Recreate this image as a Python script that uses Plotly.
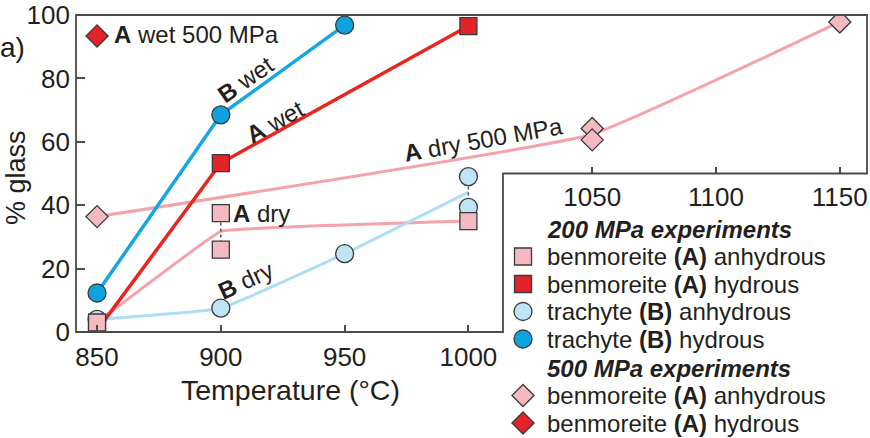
import plotly.graph_objects as go

# ---------------- data ----------------
# 200 MPa experiments
a_dry_T = [850, 900, 900, 1000]          # benmoreite (A) anhydrous
a_dry_v = [3.0, 37.5, 26.0, 35.0]
a_wet_T = [850, 900, 1000]               # benmoreite (A) hydrous
a_wet_v = [0.5, 53.3, 96.5]
b_dry_T = [850, 900, 950, 1000, 1000]    # trachyte (B) anhydrous
b_dry_v = [4.0, 7.5, 24.7, 49.0, 39.3]
b_wet_T = [850, 900, 950]                # trachyte (B) hydrous
b_wet_v = [12.3, 68.5, 96.8]
# 500 MPa experiments
a_dry500_T = [850, 1050, 1050, 1150]     # benmoreite (A) anhydrous
a_dry500_v = [36.4, 64.2, 60.6, 97.8]
a_wet500_T = [850]                       # benmoreite (A) hydrous
a_wet500_v = [93.4]

x_ticks_200 = [850, 900, 950, 1000]
x_ticks_500 = [1050, 1100, 1150]
y_ticks = [0, 20, 40, 60, 80, 100]

legend_rows = [
    ("title", "<b><i>200 MPa experiments</i></b>"),
    ("a_dry", "benmoreite <b>(A)</b> anhydrous"),
    ("a_wet", "benmoreite <b>(A)</b> hydrous"),
    ("b_dry", "trachyte <b>(B)</b> anhydrous"),
    ("b_wet", "trachyte <b>(B)</b> hydrous"),
    ("title", "<b><i>500 MPa experiments</i></b>"),
    ("a_dry500", "benmoreite <b>(A)</b> anhydrous"),
    ("a_wet500", "benmoreite <b>(A)</b> hydrous"),
]

# ---------------- styles ----------------
FONT = "Liberation Sans, Arial, Helvetica, sans-serif"
TXT = "#231F20"
EDGE = "#3A3A3A"
PINK_FILL, PINK_LINE = "#F5BAC0", "#F4A3AA"
RED_FILL, RED_LINE = "#E3222A", "#E8251F"
LBLUE_FILL, LBLUE_LINE = "#BFE4F6", "#AEDDF4"
BLUE_FILL, BLUE_LINE = "#0DA2E0", "#16A6E4"

style = {
    "a_dry": dict(symbol="square", color=PINK_FILL, size=17),
    "a_wet": dict(symbol="square", color=RED_FILL, size=17),
    "b_dry": dict(symbol="circle", color=LBLUE_FILL, size=18),
    "b_wet": dict(symbol="circle", color=BLUE_FILL, size=18),
    "a_dry500": dict(symbol="diamond", color=PINK_FILL, size=17),
    "a_wet500": dict(symbol="diamond", color=RED_FILL, size=17),
}

W, H = 870, 438
PL, PR, PT, PB = 76, 867, 15, 332          # plot frame in pixels
XR = [841.5, 1161.0]
YR = [0, 100]
CUT_X_PX = 503                              # legend cut-out of the frame
CUT_Y_VAL = 50                              # height of the second x axis


def pxx(px):
    return px / W


def pxy(py):
    return 1 - py / H


def val_to_py(v):
    return PB - (v - YR[0]) / (YR[1] - YR[0]) * (PB - PT)


xdom = [pxx(PL), pxx(PR)]
ydom = [pxy(PB), pxy(PT)]


def mean_by_T(T, v):
    d = {}
    for t, val in zip(T, v):
        d.setdefault(t, []).append(val)
    ts = sorted(d)
    return ts, [sum(d[t]) / len(d[t]) for t in ts]


def spans(T, v):
    d = {}
    for t, val in zip(T, v):
        d.setdefault(t, []).append(val)
    out_x, out_y = [], []
    for t in sorted(d):
        if len(d[t]) > 1:
            out_x += [t, t, None]
            out_y += [min(d[t]), max(d[t]), None]
    return out_x, out_y


fig = go.Figure()

# ---- lines (bottom layer) ----
def add_line(T, v, color, width, shape="linear", smoothing=None):
    xs, ys = mean_by_T(T, v)
    line = dict(color=color, width=width, shape=shape)
    if smoothing is not None:
        line["smoothing"] = smoothing
    fig.add_trace(go.Scatter(x=xs, y=ys, mode="lines", line=line,
                             showlegend=False, hoverinfo="skip"))


add_line(a_dry500_T, a_dry500_v, PINK_LINE, 3, "spline", 0.3)
add_line(a_dry_T, a_dry_v, PINK_LINE, 3, "spline", 0.15)
add_line(b_dry_T, b_dry_v, LBLUE_LINE, 3, "spline", 0.3)
add_line(a_wet_T, a_wet_v, RED_LINE, 3.5)
add_line(b_wet_T, b_wet_v, BLUE_LINE, 3.5)

# dotted ranges for duplicate runs
for T, v in [(a_dry_T, a_dry_v), (b_dry_T, b_dry_v)]:
    sx, sy = spans(T, v)
    fig.add_trace(go.Scatter(x=sx, y=sy, mode="lines",
                             line=dict(color="#555555", width=1.5, dash="dot"),
                             showlegend=False, hoverinfo="skip"))

# ---- markers ----
def add_markers(T, v, key):
    s = style[key]
    fig.add_trace(go.Scatter(
        x=T, y=v, mode="markers", showlegend=False, hoverinfo="x+y",
        marker=dict(symbol=s["symbol"], size=s["size"], color=s["color"],
                    opacity=1, line=dict(color=EDGE, width=1.3))))


add_markers(a_wet_T, a_wet_v, "a_wet")
add_markers(b_dry_T, b_dry_v, "b_dry")
add_markers(b_wet_T, b_wet_v, "b_wet")
add_markers(a_dry_T, a_dry_v, "a_dry")
add_markers(a_dry500_T, a_dry500_v, "a_dry500")
add_markers(a_wet500_T, a_wet500_v, "a_wet500")

# dummy trace for the second x axis
fig.add_trace(go.Scatter(x=[None], y=[None], xaxis="x2", yaxis="y",
                         showlegend=False, hoverinfo="skip"))

# ---- custom legend ----
LEG_MX, LEG_TX = 523, 546
LEG_Y0, LEG_DY, LEG_TITLE_DY = 229, 27.5, 29
row_y = []
y = LEG_Y0
for i, (k, _) in enumerate(legend_rows):
    if i > 0:
        y += LEG_TITLE_DY if k == "title" else LEG_DY
    row_y.append(y)

lx, ly, lsym, lcol, lsize = [], [], [], [], []
annotations = []
for (k, label), yy in zip(legend_rows, row_y):
    annotations.append(dict(x=pxx(LEG_TX), y=pxy(yy), xref="paper", yref="paper",
                            text=label, showarrow=False, xanchor="left",
                            yanchor="middle", borderpad=0,
                            font=dict(size=24, color=TXT)))
    if k != "title":
        s = style[k]
        lx.append(LEG_MX)
        ly.append(yy)
        lsym.append(s["symbol"])
        lcol.append(s["color"])
        lsize.append(s["size"])

fig.add_trace(go.Scatter(x=lx, y=ly, xaxis="x3", yaxis="y3", mode="markers",
                         showlegend=False, hoverinfo="skip",
                         marker=dict(symbol=lsym, color=lcol, size=lsize,
                                     opacity=1,
                                     line=dict(color=EDGE, width=1.3))))

# ---- curve labels ----
def lab(x, y, text, angle=0, xanchor="center", size=24):
    annotations.append(dict(x=x, y=y, xref="x", yref="y", text=text,
                            showarrow=False, textangle=angle, xanchor=xanchor,
                            yanchor="middle", font=dict(size=size, color=TXT)))


lab(856.0, 94.0, "<b>A</b> wet 500 MPa", xanchor="left")
lab(910, 79.5, "<b>B</b> wet", angle=-35)
lab(922, 66.5, "<b>A</b> wet", angle=-29)
lab(1006, 60.6, "<b>A</b> dry 500 MPa", angle=-10)
lab(904.0, 37.5, "<b>A</b> dry", xanchor="left")
lab(910, 16.3, "<b>B</b> dry", angle=-25)

# panel letter and axis titles
annotations.append(dict(x=pxx(-2), y=pxy(47), xref="paper", yref="paper",
                        text="a)", showarrow=False, xanchor="left",
                        yanchor="middle", font=dict(size=28, color=TXT)))
annotations.append(dict(x=pxx(16), y=pxy(178), xref="paper", yref="paper",
                        text="% glass", showarrow=False, textangle=-90,
                        xanchor="center", yanchor="middle", borderpad=0,
                        font=dict(size=27, color=TXT)))
annotations.append(dict(x=pxx(290), y=pxy(390), xref="paper", yref="paper",
                        text="Temperature (°C)", showarrow=False,
                        xanchor="center", yanchor="middle",
                        font=dict(size=28.5, color=TXT)))

# ---- frame with cut-out ----
cut_py = val_to_py(CUT_Y_VAL)
pts = [(PL, PB), (PL, PT), (PR, PT), (PR, cut_py), (CUT_X_PX, cut_py),
       (CUT_X_PX, PB)]
path = "M " + " L ".join(f"{pxx(a):.5f},{pxy(b):.5f}" for a, b in pts) + " Z"
shapes = [dict(type="path", path=path, xref="paper", yref="paper",
               line=dict(color="#4A4A4A", width=1.8), layer="above")]

axis_common = dict(showgrid=False, zeroline=False, showline=False,
                   ticks="inside", tickcolor="#4A4A4A", tickwidth=1.5,
                   automargin=False,
                   tickfont=dict(size=26, color=TXT, family=FONT))

fig.update_layout(
    width=W, height=H,
    margin=dict(l=0, r=0, t=0, b=0, pad=0, autoexpand=False),
    paper_bgcolor="white", plot_bgcolor="rgba(0,0,0,0)",
    font=dict(family=FONT, color=TXT),
    showlegend=False,
    xaxis=dict(domain=xdom, range=XR, tickvals=x_ticks_200, ticklen=7,
               anchor="y", ticklabelstandoff=7, **axis_common),
    xaxis2=dict(overlaying="x", anchor="free",
                position=ydom[0] + (CUT_Y_VAL - YR[0]) / (YR[1] - YR[0]) * (ydom[1] - ydom[0]),
                range=XR, tickvals=x_ticks_500, ticklen=7,
                ticklabelstandoff=5, **axis_common),
    yaxis=dict(domain=ydom, range=YR, tickvals=y_ticks, ticklen=9,
               anchor="x", ticklabelstandoff=5, **axis_common),
    xaxis3=dict(domain=[0, 1], range=[0, W], visible=False, anchor="y3",
                fixedrange=True),
    yaxis3=dict(domain=[0, 1], range=[H, 0], visible=False, anchor="x3",
                fixedrange=True),
    annotations=annotations,
    shapes=shapes,
)

fig.write_html("out.html")
